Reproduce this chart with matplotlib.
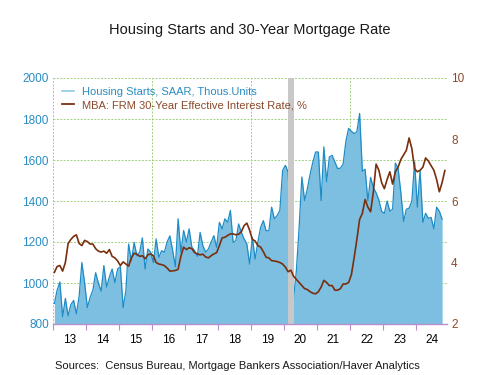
import numpy as np
import matplotlib.pyplot as plt

# monthly housing starts, SAAR, thous. units (Jan 2013 - Oct 2024)
housing_starts = [
    900, 965, 1005, 835, 925, 840, 895, 915, 850, 935, 1100, 1000,
    880, 930, 965, 1050, 1000, 960, 1085, 980, 1030, 1068, 1002, 1068,
    1080, 880, 962, 1190, 1108, 1198, 1133, 1150, 1220, 1068, 1166, 1150,
    1100, 1215, 1125, 1158, 1150, 1200, 1230, 1160, 1080, 1313, 1150, 1256,
    1200, 1264, 1174, 1158, 1130, 1247, 1182, 1150, 1166, 1200, 1231, 1174,
    1296, 1264, 1313, 1296, 1354, 1198, 1207, 1288, 1247, 1215, 1190, 1092,
    1223, 1117, 1200, 1272, 1304, 1255, 1255, 1370, 1313, 1329, 1354, 1549,
    1574, 1541, 1270, 929, 1060, 1270, 1517, 1402, 1460, 1530, 1590, 1639,
    1639, 1402, 1664, 1494, 1615, 1623, 1590, 1558, 1560, 1580, 1690, 1754,
    1740, 1729, 1737, 1827, 1545, 1555, 1400, 1515, 1465, 1440, 1405, 1350,
    1340, 1400, 1350, 1360, 1585, 1560, 1440, 1300, 1360, 1365, 1400, 1590,
    1370, 1549, 1296, 1340, 1315, 1320, 1264, 1370, 1350, 1312,
]

# MBA FRM 30-year effective interest rate, % (Jan 2013 - Nov 2024)
mortgage_rate = [
    3.68, 3.87, 3.90, 3.72, 4.00, 4.62, 4.75, 4.85, 4.90, 4.62, 4.55, 4.72,
    4.68, 4.60, 4.60, 4.45, 4.37, 4.34, 4.37, 4.30, 4.42, 4.20, 4.15, 4.05,
    3.90, 4.02, 3.95, 3.88, 4.15, 4.30, 4.27, 4.20, 4.22, 4.12, 4.25, 4.28,
    4.22, 4.00, 3.95, 3.93, 3.90, 3.82, 3.72, 3.73, 3.74, 3.78, 4.20, 4.50,
    4.42, 4.48, 4.45, 4.32, 4.28, 4.25, 4.27, 4.18, 4.15, 4.22, 4.28, 4.32,
    4.55, 4.80, 4.82, 4.88, 4.93, 4.93, 4.90, 4.92, 5.00, 5.20, 5.28, 5.05,
    4.75, 4.70, 4.55, 4.50, 4.35, 4.17, 4.15, 4.06, 4.05, 4.03, 4.00, 3.95,
    3.85, 3.70, 3.75, 3.55, 3.45, 3.35, 3.25, 3.15, 3.12, 3.05, 3.00, 2.98,
    3.05, 3.20, 3.42, 3.35, 3.25, 3.25, 3.10, 3.10, 3.15, 3.30, 3.30, 3.35,
    3.60, 4.15, 4.75, 5.40, 5.60, 6.05, 5.80, 5.65, 6.30, 7.20, 7.00, 6.60,
    6.40, 6.70, 6.95, 6.55, 6.95, 7.10, 7.35, 7.50, 7.65, 8.05, 7.70, 7.05,
    6.95, 7.00, 7.10, 7.40, 7.30, 7.15, 7.00, 6.70, 6.30, 6.60, 6.99,
]

year_labels = ['13', '14', '15', '16', '17', '18', '19', '20', '21', '22', '23', '24']
recession = (2020 + 1.5 / 12, 2020 + 3.5 / 12)

blue_text = '#2a8cc2'
brown_text = '#8b4a2c'

# mid-month positions in decimal years
starts_x = 2013 + (np.arange(len(housing_starts)) + 0.5) / 12
rate_x = 2013 + (np.arange(len(mortgage_rate)) + 0.5) / 12

plt.rcParams['font.family'] = ['Liberation Sans', 'DejaVu Sans']

fig = plt.figure(figsize=(5, 3.75), dpi=100)
ax = fig.add_axes([0.106, 0.136, 0.788, 0.656])
ax2 = ax.twinx()

# housing starts area
ax.fill_between(starts_x, 800, housing_starts, color='#7dbfe0', lw=0, zorder=2)
ax.plot(starts_x, housing_starts, color='#1e8cc6', lw=0.9, zorder=3)
ax.axvspan(recession[0], recession[1], color='#c8c8c8', lw=0, zorder=4)

# mortgage rate line
ax2.plot(rate_x, mortgage_rate, color='#7a2e0e', lw=1.2)

ax.set_xlim(2013, 2024.94)
ax.set_ylim(800, 2000)
ax2.set_ylim(2, 10)

ax.set_yticks(range(800, 2001, 200))
ax2.set_yticks(range(2, 11, 2))
ax.set_xticks(range(2013, 2025))
ax.set_xticks(np.arange(2013.5, 2025, 1), minor=True)
ax.set_xticklabels([])
ax.set_xticklabels(year_labels, minor=True)

# grid: horizontal on every left tick, vertical every 3 years
for y in range(1000, 2001, 200):
    ax.axhline(y, color='#9fd07f', lw=0.7, ls=(0, (2, 1.5)), zorder=1)
for x in [2013, 2016, 2019, 2022]:
    ax.axvline(x, color='#9fd07f', lw=0.7, ls=(0, (2, 1.5)), zorder=1)

for a in (ax, ax2):
    for s in ['top', 'left', 'right']:
        a.spines[s].set_visible(False)
ax2.spines['bottom'].set_visible(False)
ax.spines['bottom'].set_color('#b78fcc')
ax.spines['bottom'].set_linewidth(1.0)
ax.spines['bottom'].set_zorder(5)

ax.tick_params(axis='x', which='major', direction='out', length=4, color='#b78fcc', width=0.8)
ax.tick_params(axis='x', which='minor', length=0, labelsize=8.5, pad=7)
ax.tick_params(axis='y', length=0, labelsize=8.5, labelcolor=blue_text, pad=3)
ax2.tick_params(axis='y', length=0, labelsize=8.5, labelcolor=brown_text, pad=3)

# legend
h1, = ax2.plot([], [], color='#8ecbe8', lw=1.2)
h2, = ax2.plot([], [], color='#7a2e0e', lw=1.3)
leg = ax2.legend([h1, h2], ['Housing Starts, SAAR, Thous.Units',
                            'MBA: FRM 30-Year Effective Interest Rate, %'],
                 loc='upper left', frameon=False, fontsize=8, handlelength=1.1,
                 handletextpad=0.7, labelspacing=0.3, borderaxespad=0.4,
                 bbox_to_anchor=(0.0, 1.0))
leg.get_texts()[0].set_color(blue_text)
leg.get_texts()[1].set_color(brown_text)

fig.text(0.5, 1 - 30 / 375, 'Housing Starts and 30-Year Mortgage Rate',
         ha='center', va='center', fontsize=10.5, color='#1a1a1a')
fig.text(55 / 500, 1 - 366 / 375,
         'Sources:  Census Bureau, Mortgage Bankers Association/Haver Analytics',
         ha='left', va='center', fontsize=8, color='#1a1a1a')

fig.savefig('out.png', dpi=100)
